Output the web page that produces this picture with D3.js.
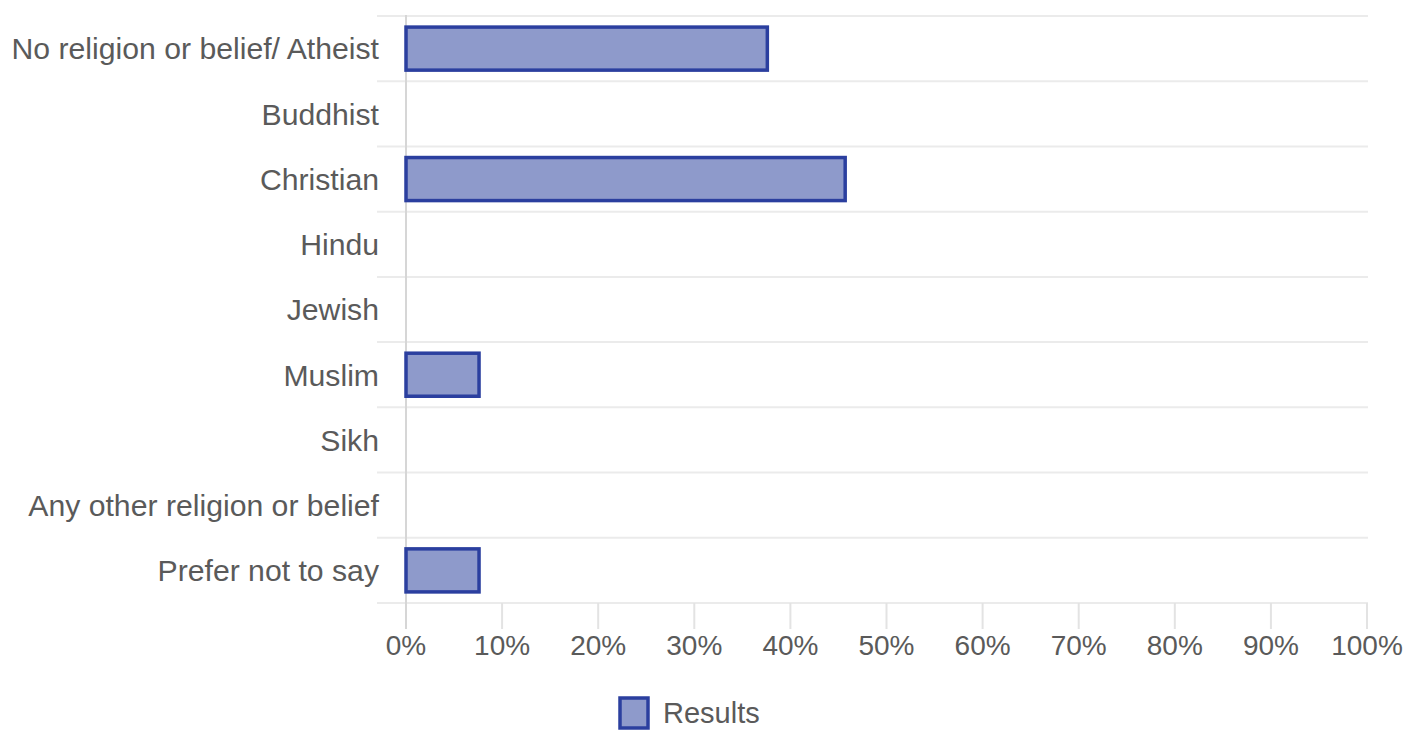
<!DOCTYPE html>
<html>
<head>
<meta charset="utf-8">
<script src="https://cdn.jsdelivr.net/npm/d3@7"></script>
<style>
  html, body { margin: 0; padding: 0; background: #fff; }
  svg { display: block; }
  text { font-family: "Liberation Sans", Arial, sans-serif; fill: #5a5a5a; }
</style>
</head>
<body>
<svg id="chart" width="1406" height="731"></svg>
<script>
const categories = [
  "No religion or belief/ Atheist",
  "Buddhist",
  "Christian",
  "Hindu",
  "Jewish",
  "Muslim",
  "Sikh",
  "Any other religion or belief",
  "Prefer not to say"
];
const values = [37.6, 0, 45.7, 0, 0, 7.6, 0, 0, 7.6];
const xTicks = [0, 10, 20, 30, 40, 50, 60, 70, 80, 90, 100];
const seriesName = "Results";

(function () {
const svg = d3.select("#chart");
const plotLeft = 406, plotRight = 1367, plotTop = 16, plotBottom = 603;

const x = d3.scaleLinear().domain([0, 100]).range([plotLeft, plotRight]);
const y = d3.scaleBand().domain(categories).range([plotTop, plotBottom])
  .paddingInner(0.34).paddingOuter(0.17);
const step = y.step();

// horizontal gridlines at row boundaries
svg.append("g").selectAll("line")
  .data(d3.range(categories.length + 1))
  .join("line")
  .attr("x1", 377).attr("x2", plotRight + 1)
  .attr("y1", i => plotTop + i * step).attr("y2", i => plotTop + i * step)
  .attr("stroke", "#ebebeb").attr("stroke-width", 2);

// x ticks below plot
svg.append("g").selectAll("line")
  .data(xTicks)
  .join("line")
  .attr("x1", d => x(d)).attr("x2", d => x(d))
  .attr("y1", plotBottom).attr("y2", 629)
  .attr("stroke", "#e3e3e3").attr("stroke-width", 2);

// zero axis line
svg.append("line")
  .attr("x1", x(0)).attr("x2", x(0))
  .attr("y1", plotTop - 1).attr("y2", 629)
  .attr("stroke", "#d6d6d6").attr("stroke-width", 2);

// bars
svg.append("g").selectAll("rect")
  .data(categories.map((c, i) => ({ c, v: values[i] })).filter(d => d.v > 0))
  .join("rect")
  .attr("x", x(0))
  .attr("y", d => y(d.c))
  .attr("width", d => x(d.v) - x(0))
  .attr("height", y.bandwidth())
  .attr("fill", "#8e9acb")
  .attr("stroke", "#2b3f9f")
  .attr("stroke-width", 3.5);

// category labels
svg.append("g").selectAll("text")
  .data(categories)
  .join("text")
  .attr("x", 379)
  .attr("y", d => y(d) + y.bandwidth() / 2)
  .attr("dy", "0.36em")
  .attr("text-anchor", "end")
  .attr("font-size", 30.2)
  .text(d => d);

// x tick labels
svg.append("g").selectAll("text")
  .data(xTicks)
  .join("text")
  .attr("x", d => x(d))
  .attr("y", 655)
  .attr("text-anchor", "middle")
  .attr("font-size", 28)
  .text(d => d + "%");

// legend
svg.append("rect")
  .attr("x", 620).attr("y", 698).attr("width", 28).attr("height", 30)
  .attr("fill", "#8e9acb").attr("stroke", "#2b3f9f").attr("stroke-width", 3.5);
svg.append("text")
  .attr("x", 663).attr("y", 723)
  .attr("font-size", 29)
  .text(seriesName);
})();
</script>
</body>
</html>
